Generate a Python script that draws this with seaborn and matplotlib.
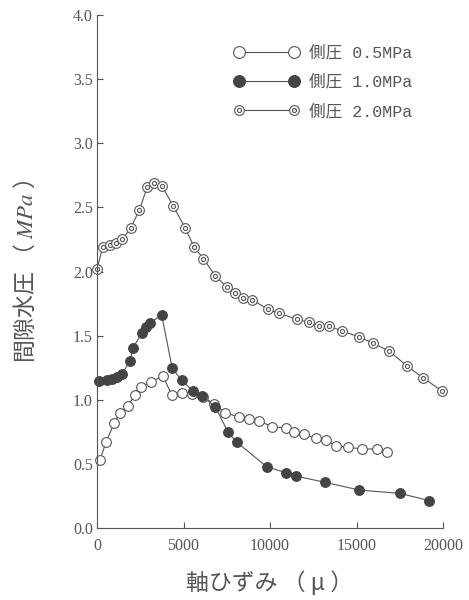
import matplotlib
matplotlib.use("Agg")
import matplotlib.pyplot as plt
import seaborn as sns
from matplotlib.path import Path
from matplotlib.lines import Line2D

# ---- data ----
x05 = [170, 520, 1000, 1330, 1770, 2200, 2530, 3120, 3800, 4320, 4890, 5510, 6110, 6760, 7400,
       8220, 8790, 9360, 10100, 10910, 11400, 11980, 12660, 13240, 13820, 14490, 15340, 16200, 16780]
y05 = [0.53, 0.67, 0.82, 0.90, 0.95, 1.04, 1.10, 1.14, 1.185, 1.04, 1.05, 1.045, 1.02, 0.97, 0.90,
       0.863, 0.847, 0.837, 0.79, 0.78, 0.746, 0.73, 0.70, 0.686, 0.64, 0.63, 0.616, 0.616, 0.595]

x10 = [130, 560, 850, 1140, 1430, 1910, 2060, 2580, 2830, 3060, 3740, 4350, 4890, 5570, 6080,
       6840, 7560, 8070, 9810, 10910, 11490, 13180, 15160, 17510, 19210]
y10 = [1.146, 1.154, 1.164, 1.18, 1.20, 1.30, 1.40, 1.518, 1.565, 1.60, 1.66, 1.245, 1.154, 1.065, 1.03,
       0.945, 0.75, 0.67, 0.478, 0.431, 0.405, 0.356, 0.296, 0.27, 0.213]

x20 = [0, 330, 750, 1100, 1460, 1950, 2450, 2910, 3310, 3740, 4410, 5090, 5620, 6150, 6840, 7500,
       7980, 8460, 8980, 9880, 10540, 11580, 12250, 12850, 13410, 14160, 15160, 15970, 16880, 17920,
       18860, 19920]
y20 = [2.02, 2.19, 2.21, 2.22, 2.25, 2.34, 2.48, 2.66, 2.69, 2.67, 2.51, 2.34, 2.19, 2.10, 1.965, 1.88,
       1.835, 1.79, 1.78, 1.705, 1.674, 1.627, 1.604, 1.578, 1.575, 1.536, 1.49, 1.44, 1.38, 1.263,
       1.17, 1.07]

labels = ["側圧 0.5MPa", "側圧 1.0MPa", "側圧 2.0MPa"]
xticks = [0, 5000, 10000, 15000, 20000]
yticks = [0.0, 0.5, 1.0, 1.5, 2.0, 2.5, 3.0, 3.5, 4.0]

sns.set_theme(style="white")
plt.rcParams["font.family"] = ["Liberation Serif", "Noto Sans CJK JP", "DejaVu Sans"]
plt.rcParams["mathtext.fontset"] = "stix"

gray = "#555555"
dark = "#444444"

fig = plt.figure(figsize=(4.69, 6.0), dpi=100)
ax = fig.add_axes([97 / 469, 72 / 600, 346 / 469, 513 / 600])

ring = Path.make_compound_path(Path.unit_circle(),
                               Path.circle((0, 0), 0.42))

ms = 7.0
common = dict(ax=ax, color=gray, linewidth=0.8, estimator=None, sort=False, clip_on=False)
sns.lineplot(x=x20, y=y20, marker=ring, markersize=ms, markerfacecolor="white",
             markeredgecolor=gray, markeredgewidth=0.8, **common)
sns.lineplot(x=x05, y=y05, marker="o", markersize=ms, markerfacecolor="white",
             markeredgecolor=gray, markeredgewidth=0.8, **common)
sns.lineplot(x=x10, y=y10, marker="o", markersize=ms, markerfacecolor=dark,
             markeredgecolor=dark, markeredgewidth=0.8, **common)

ax.set_xlim(0, 20000)
ax.set_ylim(0, 4.0)
ax.set_xticks(xticks)
ax.set_xticklabels([str(v) for v in xticks])
ax.set_yticks(yticks)
ax.set_yticklabels([f"{v:.1f}" for v in yticks])
ax.tick_params(axis="both", direction="in", length=4, width=0.8, color=gray,
               labelcolor=gray, labelsize=11.5)
ax.tick_params(axis="x", pad=7)
ax.tick_params(axis="y", pad=3)
ax.tick_params(bottom=True, left=True)

for s in ["top", "right"]:
    ax.spines[s].set_visible(False)
for s in ["left", "bottom"]:
    ax.spines[s].set_color(gray)
    ax.spines[s].set_linewidth(0.8)

ax.set_ylabel("間隙水圧 （ $\\mathit{MPa}$ ）", fontsize=16.5, color=gray,
              family=["Noto Sans CJK JP", "DejaVu Sans"])
ax.yaxis.set_label_coords(-0.172, 0.5)
ax.set_xlabel("軸ひずみ （ μ ）", fontsize=16.5, color=gray,
              family=["Noto Sans CJK JP", "DejaVu Sans"])
ax.xaxis.set_label_coords(0.5, -0.083)

handles = [
    Line2D([], [], color=gray, lw=0.8, marker="o", ms=8.5, mfc="white", mec=gray, mew=0.8),
    Line2D([], [], color=gray, lw=0.8, marker="o", ms=8.5, mfc=dark, mec=dark, mew=0.8),
    Line2D([], [], color=gray, lw=0.8, marker=ring, ms=7.0, mfc="white", mec=gray, mew=0.8),
]
leg = ax.legend(handles, labels, loc="upper left", bbox_to_anchor=(219 / 469, 1 - 30 / 600),
                bbox_transform=fig.transFigure, frameon=False, numpoints=2,
                handlelength=3.9, handletextpad=0.6, labelspacing=0.82,
                prop={"family": ["Liberation Mono", "Noto Sans CJK JP"], "size": 12})
for t in leg.get_texts():
    t.set_color(gray)

fig.savefig("out.png", dpi=100)
